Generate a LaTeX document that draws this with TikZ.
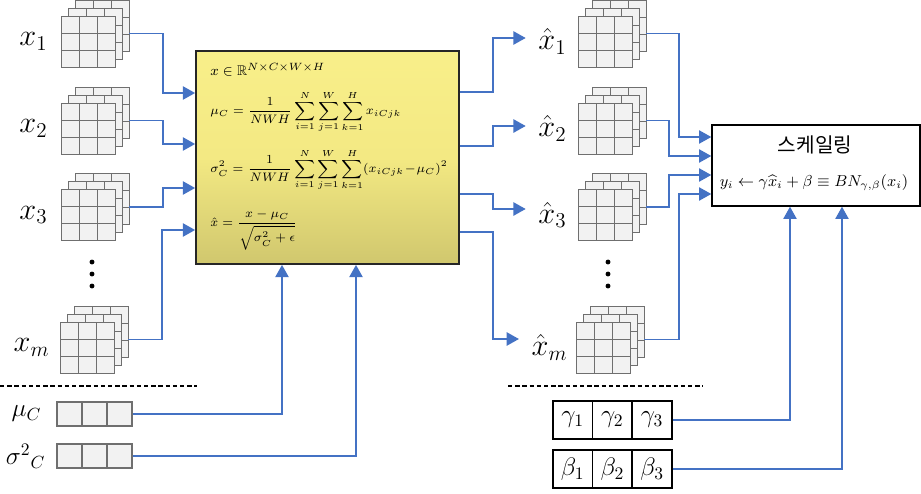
\documentclass[tikz,border=0pt]{standalone}
\usepackage{amsmath,amssymb}
\usepackage{fontspec}
\newfontfamily\kfont{Noto Sans CJK KR}
\usepackage{tikz}
\usetikzlibrary{positioning, arrows.meta, calc}
\definecolor{lnBlue}{HTML}{4472C4}
\definecolor{gridFill}{HTML}{F2F2F2}
\definecolor{gridLine}{HTML}{6F6F6F}
\definecolor{bnTop}{HTML}{FEF590}
\definecolor{bnMid}{HTML}{F3E983}
\definecolor{bnLow}{HTML}{CCC36B}
\definecolor{bnBot}{HTML}{9A914C}
\pgfdeclareverticalshading{bnshade}{100bp}{color(0bp)=(bnBot); color(22bp)=(bnLow); color(50bp)=(bnMid); color(100bp)=(bnTop)}
\tikzset{
  layer/.style ={draw=gridLine, fill=gridFill, line width=0.5pt, minimum width=1.08cm, minimum height=1.02cm, inner sep=0pt,
    path picture={
      \foreach \t in {1,2}{
        \draw[gridLine, line width=0.5pt]
          ($(path picture bounding box.north west)!\t/3!(path picture bounding box.north east)$) --
          ($(path picture bounding box.south west)!\t/3!(path picture bounding box.south east)$);
        \draw[gridLine, line width=0.5pt]
          ($(path picture bounding box.north west)!\t/3!(path picture bounding box.south west)$) --
          ($(path picture bounding box.north east)!\t/3!(path picture bounding box.south east)$);
      }}},
  lbl/.style   ={inner sep=1pt, font=\fontsize{18.5}{22}\selectfont},
  cellg/.style ={draw=gridLine, fill=gridFill, line width=0.6pt, minimum width=0.5cm, minimum height=0.48cm, inner sep=0pt},
  cellw/.style ={draw=black, fill=white, line width=0.9pt, minimum width=0.794cm, minimum height=0.76cm, inner sep=0pt, font=\Large},
  link/.style  ={-{Triangle[length=7pt,width=7.5pt]}, line width=1.1pt, lnBlue},
  divider/.style={draw=black, dash pattern=on 2.5pt off 1.6pt, line width=0.6pt},
}
% one tensor = three stacked 3x3 layers (back, mid, front)
\newcommand{\tensorstack}[2]{%
  \node[layer] (b#1) at ($(#2)+(14,-16)$) {};
  \node[layer] (m#1) at ($(#2)+(7,-8)$) {};
  \node[layer] (f#1) at (#2) {};
}

\begin{document}
\begin{tikzpicture}[x=0.02cm, y=-0.02cm,
  bnbox/.style={draw=black!85, line width=1pt, shading=bnshade, minimum width=5.26cm, minimum height=4.26cm, inner sep=0pt},
  fml/.style={anchor=west, inner sep=0pt, font=\fontsize{7.4}{9}\selectfont},
]
\useasboundingbox (0,0) rectangle (921,494);

% ---- input mini-batch ----
\tensorstack{in1}{88,41.5}
\tensorstack{in2}{88,128.5}
\tensorstack{in3}{88,215}
\tensorstack{inm}{87,347.5}
\node[lbl, left=0.22cm of fin1] (lin1) {$x_1$};
\node[lbl, left=0.22cm of fin2] (lin2) {$x_2$};
\node[lbl, left=0.22cm of fin3] (lin3) {$x_3$};
\node[lbl, left=0.16cm of finm] (linm) {$x_m$};
\foreach \y in {262,274,286} \fill (92,\y) circle[radius=1.4pt];

% ---- normalisation box ----
\node[bnbox] (bn) at (327.5,157.5) {};
\node[fml, font=\fontsize{8}{9}\selectfont] (f1) at (210,70) {$x \in \mathbb{R}^{N\times C\times W\times H}$};
\node[fml] (f2) at (210,112) {$\displaystyle \mu_C = \frac{1}{NWH}\sum_{i=1}^{N}\sum_{j=1}^{W}\sum_{k=1}^{H} x_{iCjk}$};
\node[fml] (f3) at (210,170) {$\displaystyle \sigma_C^2 = \frac{1}{NWH}\sum_{i=1}^{N}\sum_{j=1}^{W}\sum_{k=1}^{H}(x_{iCjk}\!-\!\mu_C)^2$};
\node[fml] (f4) at (210,230) {$\displaystyle \hat{x} = \frac{x-\mu_C}{\sqrt{\sigma_C^2+\epsilon}}$};
\foreach \s/\y in {in1/93, in2/144, in3/188, inm/230}
  \draw[link] (m\s.center -| b\s.east) -- ++(34,0) |- (bn.west |- 0,\y);

% ---- normalised outputs ----
\tensorstack{out1}{605,41.5}
\tensorstack{out2}{605,128.5}
\tensorstack{out3}{605,215}
\tensorstack{outm}{603,347.5}
\node[lbl, left=0.18cm of fout1] (lout1) {$\hat{x}_1$};
\node[lbl, left=0.18cm of fout2] (lout2) {$\hat{x}_2$};
\node[lbl, left=0.18cm of fout3] (lout3) {$\hat{x}_3$};
\node[lbl, left=0.12cm of foutm] (loutm) {$\hat{x}_m$};
\foreach \y in {262,274,286} \fill (608,\y) circle[radius=1.4pt];
\foreach \s/\y/\t in {out1/92/38, out2/146/126, out3/194/209, outm/232/339}
  \draw[link, shorten >=6pt] (bn.east |- 0,\y) -- ++(33,0) |- (l\s.west |- 0,\t);

% ---- scaling box ----
\node[draw=black, line width=0.8pt, fill=white, minimum width=4.16cm, minimum height=1.62cm] (sc) at (816,165.5) {};
\node[inner sep=0pt, font=\kfont\fontsize{11.5}{13}\selectfont] (sct) at (815,145) {스케일링};
\node[inner sep=0pt, font=\fontsize{9}{11}\selectfont] (scf) at (814,183) {$y_i \leftarrow \gamma\widehat{x}_i + \beta \equiv BN_{\gamma,\beta}(x_i)$};
\foreach \s/\d/\y in {out1/33/137, out2/23/156, out3/23/175, outm/35/194}
  \draw[link] (m\s.center -| b\s.east) -- ++(\d,0) |- (sc.west |- 0,\y);

% ---- batch statistics ----
\draw[divider] (0,386) -- (197,386);
\foreach \i in {1,2,3} \node[cellg] (mu\i) at ({44.5+25*\i},414) {};
\foreach \i in {1,2,3} \node[cellg] (sg\i) at ({44.5+25*\i},456) {};
\node[font=\Large, left=0.18cm of mu1] (lmu) {$\mu_C$};
\node[font=\Large, left=0.1cm of sg1] (lsg) {$\sigma^{2}{}_{C}$};
\draw[link] (mu3.east) -| (bn.south -| 282,0);
\draw[link] (sg3.east) -| (bn.south -| 356,0);

% ---- learned parameters ----
\draw[divider] (508,386) -- (703,386);
\foreach \i in {1,2,3} \node[cellw] (ga\i) at ({533+39.7*\i},420) {$\gamma_{\i}$};
\foreach \i in {1,2,3} \node[cellw] (be\i) at ({533+39.7*\i},469) {$\beta_{\i}$};
\draw[link] (ga3.east) -| (sc.south -| 790,0);
\draw[link] (be3.east) -| (sc.south -| 842,0);
\end{tikzpicture}
\end{document}
